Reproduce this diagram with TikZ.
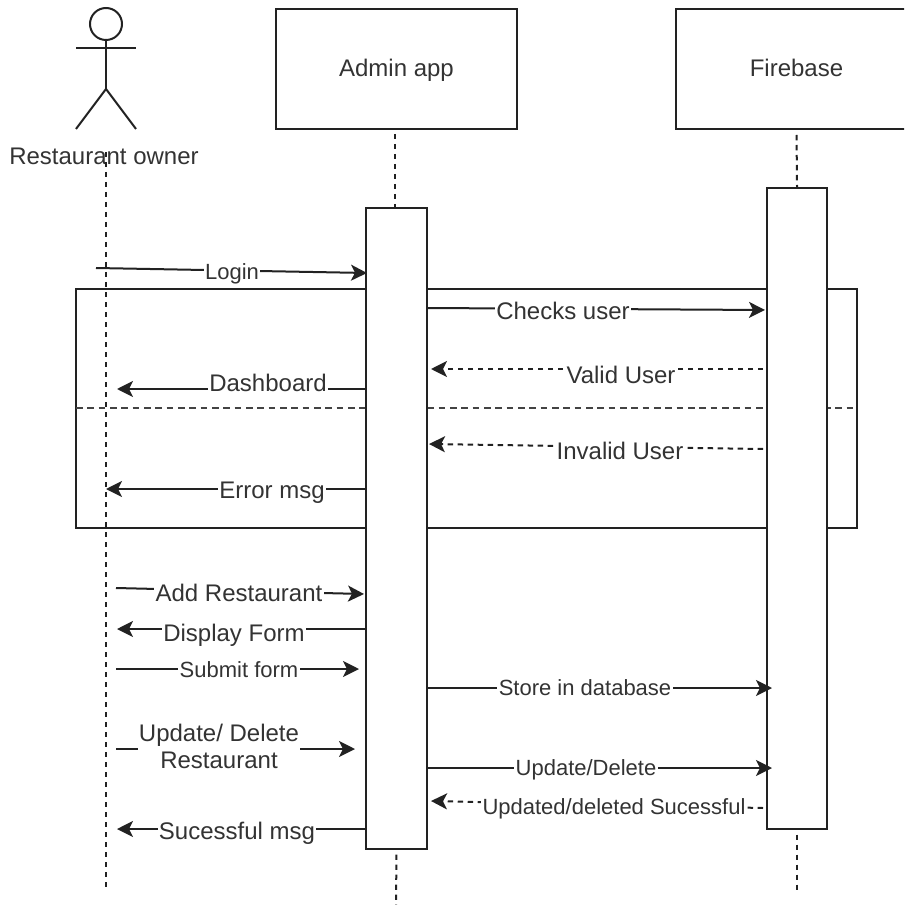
\documentclass[tikz,border=0pt]{standalone}
\usepackage{fontspec}
\setmainfont{Liberation Sans}
\usetikzlibrary{arrows.meta}
\definecolor{ink}{HTML}{222222}
\definecolor{txt}{HTML}{333333}
\tikzset{
  x=0.75pt,y=-0.75pt,
  ln/.style={draw=ink,line width=1.5pt},
  headbox/.style={ln,minimum width=180.75pt,minimum height=90pt,inner sep=0pt,text depth=0.21em,font=\fontsize{18}{21}\selectfont,text=txt},
  activebox/.style={ln,fill=white,minimum width=45.5pt,minimum height=480.5pt,inner sep=0pt},
  life/.style={draw=ink,line width=1.5pt,dash pattern=on 4pt off 3.5pt},
  frameline/.style={draw=ink!85,line width=1.5pt,dash pattern=on 5pt off 3.5pt},
  msg/.style={ln,-{Stealth[length=12pt,width=12pt,inset=3pt]}},
  rmsg/.style={msg,dash pattern=on 4pt off 3.5pt},
  biglab/.style={fill=white,text=txt,inner xsep=1pt,inner ysep=0.5pt,font=\fontsize{18}{20.5}\selectfont,align=center},
  smalllab/.style={biglab,font=\fontsize{16.5}{19}\selectfont},
}
\begin{document}
\begin{tikzpicture}
\path[use as bounding box,clip] (0,0) rectangle (904,905);
% frame
\node[ln,minimum width=585.75pt,minimum height=179.25pt,inner sep=0pt] (frame) at (466.5,408.5) {};
\coordinate (divL) at (76,408);
\coordinate (divR) at (857,408);
\draw[frameline] (divL) -- (divR);
% actor
\node[ln,circle,minimum size=24pt,inner sep=0pt] (head) at (106,24) {};
\coordinate (armL) at (76,48);
\coordinate (armR) at (136,48);
\coordinate (hip) at (106,89);
\coordinate (legL) at (76,129);
\coordinate (legR) at (136,129);
\draw[ln] (head.south) -- (hip);
\draw[ln] (armL) -- (armR);
\draw[ln] (legL) -- (hip) -- (legR);
\node[text=txt,inner sep=0pt,font=\fontsize{18}{20}\selectfont] (owner) at (104,156) {Restaurant owner};
% heads
\node[headbox] (admin) at (396.5,69) {Admin app};
\node[headbox] (fire) at (796.5,69) {Firebase};
% lifelines
\coordinate (ownerTop) at (106,152);
\coordinate (ownerEnd) at (106,890);
\coordinate (adminEnd) at (396,905);
\coordinate (fireEnd) at (797,890);
\draw[life] (ownerTop) -- (ownerEnd);
% activations
\node[activebox] (aact) at (396.5,528.5) {};
\node[activebox] (fact) at (797,508.5) {};
\coordinate (adminTop) at (395,129);
\coordinate (adminBar) at (395,208);
\draw[life,shorten <=3.75pt] (adminTop) -- (adminBar);
\draw[life,shorten <=3.75pt] (fire.south) -- (fact.north);
\draw[life,shorten <=3.5pt] (aact.south) -- (adminEnd);
\draw[life,shorten <=3.5pt] (fact.south) -- (fireEnd);
% messages
\coordinate (m1a) at (96,268);   \coordinate (m1b) at (367,273);
\coordinate (m2a) at (427,308);  \coordinate (m2b) at (765,310);
\coordinate (m3a) at (763,369);  \coordinate (m3b) at (431,369);
\coordinate (m4a) at (366,389);  \coordinate (m4b) at (117,389);
\coordinate (m5a) at (763,449);  \coordinate (m5b) at (429,444);
\coordinate (m6a) at (366,489);  \coordinate (m6b) at (106,489);
\coordinate (m7a) at (116,588);  \coordinate (m7b) at (364,594);
\coordinate (m8a) at (366,629);  \coordinate (m8b) at (117,629);
\coordinate (m9a) at (116,669);  \coordinate (m9b) at (359,669);
\coordinate (m10a) at (427,688); \coordinate (m10b) at (772,688);
\coordinate (m11a) at (116,749); \coordinate (m11b) at (355,749);
\coordinate (m12a) at (427,768); \coordinate (m12b) at (772,768);
\coordinate (m13a) at (763,808); \coordinate (m13b) at (431,801);
\coordinate (m14a) at (366,829); \coordinate (m14b) at (117,829);
\draw[msg] (m1a) -- (m1b);
\draw[msg] (m2a) -- (m2b);
\draw[rmsg] (m3a) -- (m3b);
\draw[msg] (m4a) -- (m4b);
\draw[rmsg] (m5a) -- (m5b);
\draw[msg] (m6a) -- (m6b);
\draw[msg] (m7a) -- (m7b);
\draw[msg] (m8a) -- (m8b);
\draw[msg] (m9a) -- (m9b);
\draw[msg] (m10a) -- (m10b);
\draw[msg] (m11a) -- (m11b);
\draw[msg] (m12a) -- (m12b);
\draw[rmsg] (m13a) -- (m13b);
\draw[msg] (m14a) -- (m14b);
% labels
\node[smalllab] (l1) at (232,274) {Login};
\node[biglab] (l2) at (563,311) {Checks user};
\node[biglab] (l3) at (621,375) {Valid User};
\node[biglab] (l4) at (268,383) {Dashboard};
\node[biglab] (l5) at (620,451) {Invalid User};
\node[biglab] (l6) at (272,493) {Error msg};
\node[biglab] (l7) at (239,593) {Add Restaurant};
\node[biglab] (l8) at (234,635) {Display Form};
\node[smalllab] (l9) at (239,670) {Submit form};
\node[smalllab] (l10) at (585,688) {Store in database};
\node[biglab] (l11) at (219,746.5) {Update/ Delete\\Restaurant};
\node[smalllab] (l12) at (586,770) {Update/Delete};
\node[smalllab] (l13) at (614,809) {Updated/deleted Sucessful};
\node[biglab] (l14) at (237,833) {Sucessful msg};
\end{tikzpicture}
\end{document}
